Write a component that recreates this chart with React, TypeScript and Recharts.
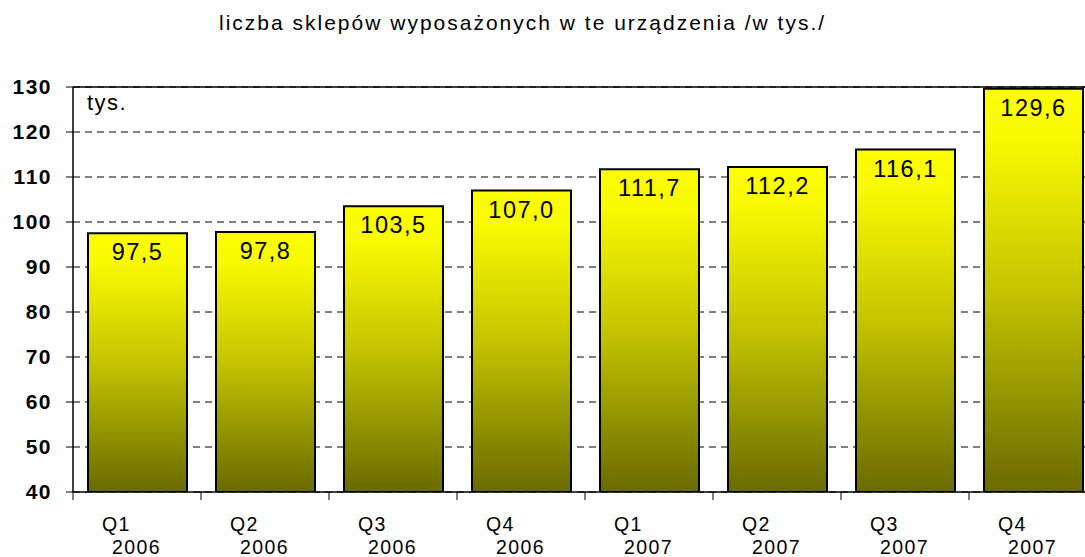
import { BarChart, Bar, XAxis, YAxis, CartesianGrid, ReferenceLine, LabelList } from 'recharts'

const quarters = ['Q1', 'Q2', 'Q3', 'Q4', 'Q1', 'Q2', 'Q3', 'Q4']
const years = ['2006', '2006', '2006', '2006', '2007', '2007', '2007', '2007']
const shops = [97.5, 97.8, 103.5, 107.0, 111.7, 112.2, 116.1, 129.6]
const yTicks = [40, 50, 60, 70, 80, 90, 100, 110, 120, 130]

const data = quarters.map((q, i) => ({ name: `${q} ${years[i]}`, q, year: years[i], value: shops[i] }))

const FONT = '"Liberation Sans", Arial, sans-serif'

function QuarterTick(props: any) {
  const { x, y, index } = props
  const band = 128
  return (
    <g>
      <line x1={x - band / 2} x2={x - band / 2} y1={y} y2={y + 8} stroke="#000" strokeWidth={1} />
      <text x={x - 35} y={y + 39} fontSize={19.5} letterSpacing={1.4} fontFamily={FONT} fill="#000">
        {quarters[index]}
      </text>
      <text x={x - 25} y={y + 62} fontSize={19.5} letterSpacing={1.4} fontFamily={FONT} fill="#000">
        {years[index]}
      </text>
    </g>
  )
}

function ValueLabel(props: any) {
  const { x, y, width, value } = props
  return (
    <text
      x={x + width / 2}
      y={y + 27}
      textAnchor="middle"
      fontSize={23.5}
      letterSpacing={1.5}
      fontFamily={FONT}
      fill="#000"
    >
      {value.toFixed(1).replace('.', ',')}
    </text>
  )
}

export default function App() {
  return (
    <div
      style={{
        position: 'fixed',
        left: 0,
        top: 0,
        width: 1085,
        height: 557,
        overflow: 'hidden',
        background: '#fff',
        fontFamily: FONT,
      }}
    >
      <div
        style={{
          position: 'absolute',
          left: 219,
          top: 12,
          whiteSpace: 'nowrap',
          fontSize: 21,
          lineHeight: '21px',
          letterSpacing: 2,
          color: '#000',
        }}
      >
        liczba sklepów wyposażonych w te urządzenia /w tys./
      </div>
      <div style={{ position: 'absolute', left: 87, top: 92, fontSize: 22, lineHeight: '22px', letterSpacing: 1.5 }}>
        tys.
      </div>
      <BarChart width={1100} height={557} data={data} margin={{ top: 87, right: 3, bottom: 0, left: 0 }}>
        <defs>
          <linearGradient id="barFill" x1="0" y1="0" x2="0" y2="1">
            <stop offset="0" stopColor="#ffff00" />
            <stop offset="0.12" stopColor="#f9f900" />
            <stop offset="0.5" stopColor="#c4c400" />
            <stop offset="1" stopColor="#6a6a00" />
          </linearGradient>
        </defs>
        <CartesianGrid vertical={false} stroke="#000" strokeDasharray="7 5" />
        <XAxis
          dataKey="name"
          height={65}
          axisLine={{ stroke: '#000', strokeWidth: 1.5 }}
          tickLine={false}
          tickSize={0}
          tickMargin={0}
          interval={0}
          tick={<QuarterTick />}
        />
        <YAxis
          width={73}
          domain={[40, 130]}
          ticks={yTicks}
          interval={0}
          allowDataOverflow
          axisLine={{ stroke: '#000', strokeWidth: 1.5 }}
          tickLine={{ stroke: '#000' }}
          tickSize={7}
          tickMargin={14}
          tick={{ fill: '#000', fontSize: 21, fontWeight: 700, fontFamily: FONT, letterSpacing: 1.5 }}
        />
        <ReferenceLine y={130} stroke="#000" strokeWidth={1.5} />
        <Bar dataKey="value" barSize={99} fill="url(#barFill)" stroke="#000" strokeWidth={2} isAnimationActive={false}>
          <LabelList dataKey="value" content={<ValueLabel />} />
        </Bar>
      </BarChart>
    </div>
  )
}
